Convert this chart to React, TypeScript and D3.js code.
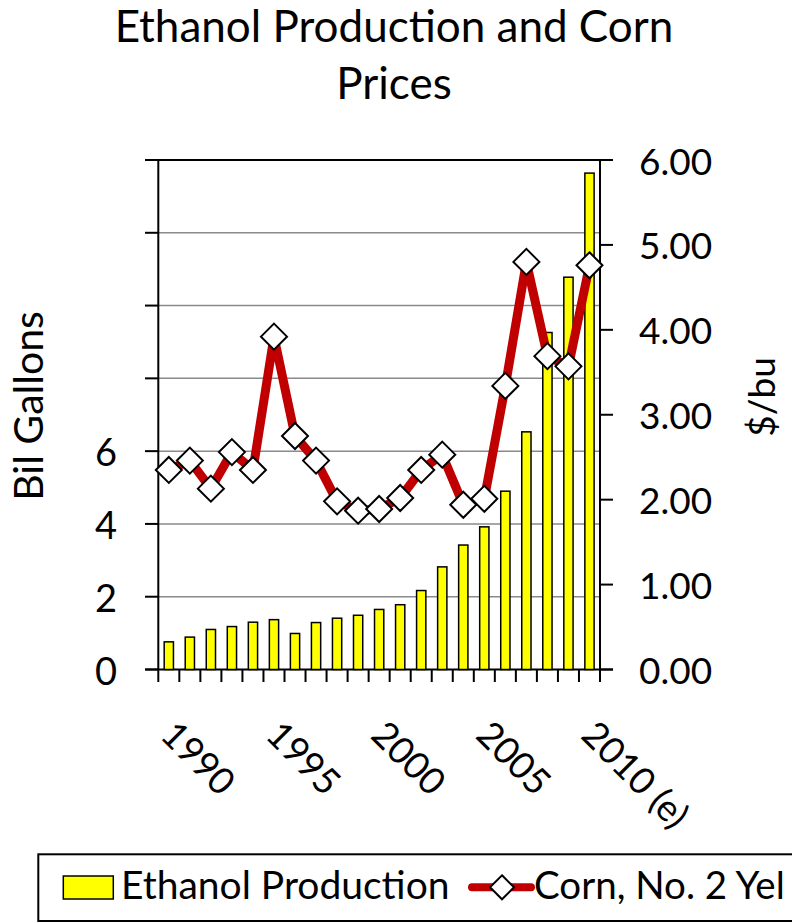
import React from "react";
import * as d3 from "d3";

// Marketing years shown on the category axis
const years = [
  "1990", "1991", "1992", "1993", "1994", "1995", "1996", "1997", "1998", "1999", "2000",
  "2001", "2002", "2003", "2004", "2005", "2006", "2007", "2008", "2009", "2010",
];

// Ethanol production, billion gallons
const ethanol = [
  0.76, 0.89, 1.1, 1.18, 1.3, 1.37, 0.99, 1.29, 1.41, 1.49, 1.65,
  1.78, 2.17, 2.82, 3.42, 3.92, 4.9, 6.53, 9.26, 10.78, 13.64,
];

// Corn, No. 2 Yellow, $/bu
const corn = [
  2.35, 2.46, 2.13, 2.56, 2.35, 3.92, 2.75, 2.46, 1.98, 1.87, 1.89,
  2.02, 2.35, 2.53, 1.94, 2.01, 3.34, 4.8, 3.69, 3.57, 4.76,
];

// Axis ticks
const leftTicks = [0, 2, 4, 6, 8, 10, 12, 14];
const leftTickLabels = [0, 2, 4, 6];
const rightTicks = [0, 1, 2, 3, 4, 5, 6];
const xLabelYears = ["1990", "1995", "2000", "2005", "2010"];
const xLabelTexts = ["1990", "1995", "2000", "2005", "2010 (e)"];

const FONT = "Lato, 'Noto Sans', sans-serif";
const YELLOW = "#FFFF00";
const RED = "#C00000";

const W = 792;
const H = 923;
const plot = { left: 158.3, right: 600, top: 160, bottom: 669.5 };

function diamondPath(cx: number, cy: number, r: number) {
  return `M${cx},${cy - r}L${cx + r},${cy}L${cx},${cy + r}L${cx - r},${cy}Z`;
}

export default function App() {
  const x = d3.scaleBand<string>().domain(years).range([plot.left, plot.right]).padding(0);
  const yL = d3.scaleLinear().domain([0, 14]).range([plot.bottom, plot.top]);
  const yR = d3.scaleLinear().domain([0, 6]).range([plot.bottom, plot.top]);
  const bw = x.bandwidth();
  const barW = bw * 0.44;
  const cx = (yr: string) => (x(yr) as number) + bw / 2;

  const line = d3
    .line<number>()
    .x((_, i) => cx(years[i]))
    .y((d) => yR(d));

  const boundaries = years.map((yr) => x(yr) as number).concat([plot.right]);

  return (
    <svg
      width={W}
      height={H}
      style={{ position: "absolute", left: 0, top: 0, background: "#fff" }}
      fontFamily={FONT}
    >
      <rect x={0} y={0} width={W} height={H} fill="#fff" />

      {/* Title */}
      <text x={394} y={41.7} fontSize={44} textAnchor="middle" fill="#000">
        Ethanol Production and Corn
      </text>
      <text x={394} y={99.3} fontSize={44} textAnchor="middle" fill="#000">
        Prices
      </text>

      {/* Gridlines */}
      {leftTicks
        .filter((t) => t > 0 && t < 14)
        .map((t) => (
          <line
            key={"g" + t}
            x1={plot.left}
            x2={plot.right}
            y1={yL(t)}
            y2={yL(t)}
            stroke="#8a8a8a"
            strokeWidth={1.5}
          />
        ))}

      {/* Top and bottom lines */}
      <line x1={145} x2={613} y1={plot.top} y2={plot.top} stroke="#000" strokeWidth={2} />
      <line x1={145} x2={613} y1={plot.bottom} y2={plot.bottom} stroke="#000" strokeWidth={2} />

      {/* Left axis */}
      <line x1={plot.left} x2={plot.left} y1={plot.top} y2={plot.bottom} stroke="#000" strokeWidth={2} />
      {leftTicks.map((t) => (
        <line key={"lt" + t} x1={145} x2={plot.left} y1={yL(t)} y2={yL(t)} stroke="#000" strokeWidth={2} />
      ))}
      {leftTickLabels.map((t) => (
        <text
          key={"ll" + t}
          x={117}
          y={yL(t)}
          fontSize={38}
          textAnchor="end"
          dominantBaseline="central"
          fill="#000"
        >
          {t}
        </text>
      ))}
      <text
        transform={`translate(43,406) rotate(-90)`}
        fontSize={41}
        textAnchor="middle"
        fill="#000"
      >
        Bil Gallons
      </text>

      {/* Right axis */}
      <line x1={plot.right} x2={plot.right} y1={plot.top} y2={plot.bottom} stroke="#000" strokeWidth={2} />
      {rightTicks.map((t) => (
        <line key={"rt" + t} x1={plot.right} x2={613} y1={yR(t)} y2={yR(t)} stroke="#000" strokeWidth={2} />
      ))}
      {rightTicks.map((t) => (
        <text
          key={"rl" + t}
          x={639}
          y={yR(t)}
          fontSize={37}
          textAnchor="start"
          dominantBaseline="central"
          fill="#000"
        >
          {d3.format(".2f")(t)}
        </text>
      ))}
      <text
        transform={`translate(775,397) rotate(-90)`}
        fontSize={37}
        textAnchor="middle"
        fill="#000"
      >
        $/bu
      </text>

      {/* Category axis ticks */}
      {boundaries.map((b, i) => (
        <line key={"xt" + i} x1={b} x2={b} y1={plot.bottom} y2={682} stroke="#000" strokeWidth={2} />
      ))}
      {xLabelYears.map((yr, i) => (
        <text
          key={"xl" + yr}
          transform={`translate(${cx(yr) - 10},737) rotate(45)`}
          fontSize={37}
          textAnchor="start"
          fill="#000"
        >
          {xLabelTexts[i]}
        </text>
      ))}

      {/* Ethanol bars */}
      {ethanol.map((v, i) => (
        <rect
          key={"b" + i}
          x={cx(years[i]) - barW / 2}
          y={yL(v)}
          width={barW}
          height={yL(0) - yL(v)}
          fill={YELLOW}
          stroke="#000"
          strokeWidth={1.5}
        />
      ))}

      {/* Corn price line */}
      <path
        d={line(corn) || ""}
        fill="none"
        stroke={RED}
        strokeWidth={9}
        strokeLinejoin="round"
        strokeLinecap="round"
      />
      {corn.map((v, i) => (
        <path
          key={"m" + i}
          d={diamondPath(cx(years[i]), yR(v), 13)}
          fill="#fff"
          stroke="#000"
          strokeWidth={2}
        />
      ))}

      {/* Legend */}
      <rect x={38.3} y={854.3} width={780} height={66.7} fill="#fff" stroke="#000" strokeWidth={2} />
      <rect x={63.3} y={876} width={50} height={23} fill={YELLOW} stroke="#000" strokeWidth={1.5} />
      <text x={121} y={899} fontSize={39} fill="#000">
        Ethanol Production
      </text>
      <line x1={472} x2={531} y1={887.3} y2={887.3} stroke={RED} strokeWidth={8} strokeLinecap="round" />
      <path d={diamondPath(502, 887.3, 12)} fill="#fff" stroke="#000" strokeWidth={2} />
      <text x={534} y={899} fontSize={38.5} fill="#000">
        Corn, No. 2 Yel
      </text>
    </svg>
  );
}
